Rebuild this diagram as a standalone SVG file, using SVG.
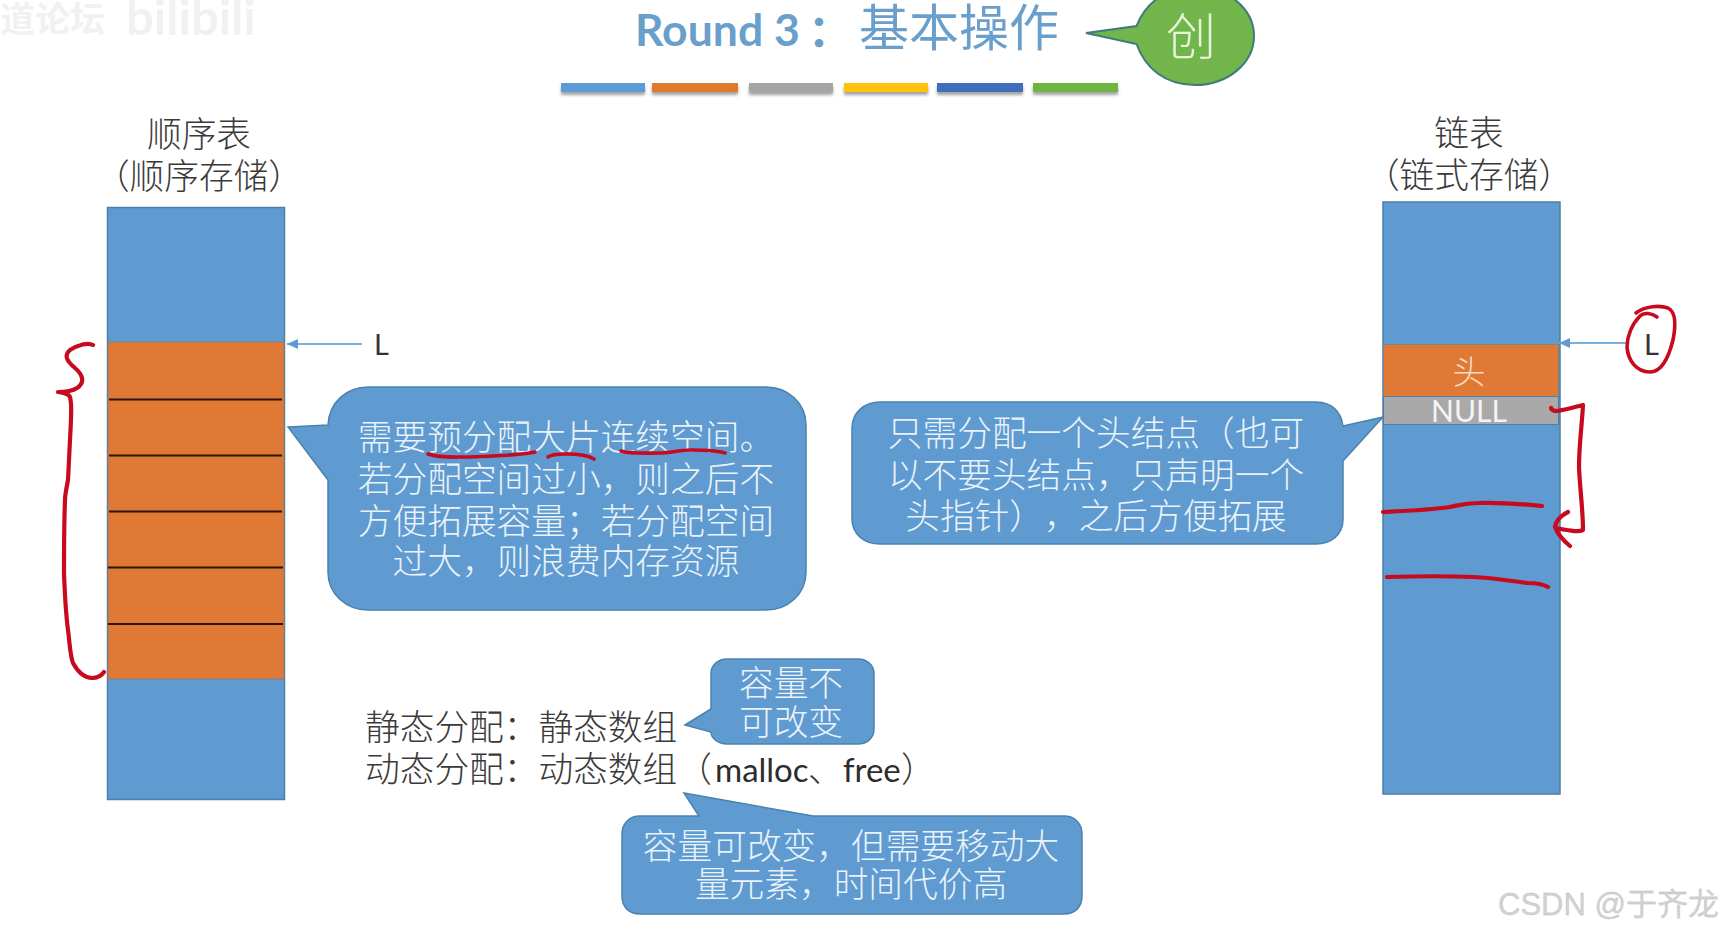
<svg xmlns="http://www.w3.org/2000/svg" width="1724" height="934" viewBox="0 0 1724 934">
<style>
text{font-family:"Noto Sans CJK SC","Noto Sans",sans-serif;text-spacing-trim:space-all}
.lab{font-size:34.7px;fill:#3a3a3a;text-anchor:middle;font-weight:300}
.plain{font-size:34.7px;fill:#3a3a3a;font-weight:300}
.bub{font-size:34.7px;fill:#e9f2f9;text-anchor:middle;font-weight:300}
.box{fill:#5f9bd0;stroke:#4b7fa9;stroke-width:1.5}
.org{fill:#e07836;stroke:#8a8078;stroke-width:1}
.call{fill:#5f9bd0;stroke:#4a82ad;stroke-width:1.5}
.sep{stroke:#2a1505;stroke-width:2}
.ink{fill:none;stroke:#c80a1e;stroke-width:4.2;stroke-linecap:round;stroke-linejoin:round}
.thin{stroke-width:3.6}
.ptr{stroke:#74b0de;stroke-width:2;fill:none;marker-end:url(#ah)}
.bar{filter:url(#sh)}
</style>
<defs>
<marker id="ah" markerUnits="userSpaceOnUse" markerWidth="12" markerHeight="12" refX="11" refY="6" orient="auto"><path d="M0,6 L11,1 L11,11 Z" transform="rotate(180 5.5 6)" fill="#5f9bd0"/></marker>
<filter id="sh" x="-10%" y="-40%" width="120%" height="200%"><feDropShadow dx="0" dy="3" stdDeviation="1.6" flood-color="#555" flood-opacity=".55"/></filter>
</defs>
<rect width="1724" height="934" fill="#fff"/>
<g id="watermark-top" fill="#f1f1f1" font-weight="700">
<text x="0" y="32" font-size="35">道论坛</text>
<text x="126" y="35" font-size="49" style="font-family:Lato,sans-serif">bilibili</text>
</g>
<g id="title">
<text x="635" y="46" font-size="44.500" font-weight="700" fill="#6b9fcb" style="font-family:Lato,sans-serif">Round 3</text>
<text x="808" y="47" font-size="44" font-weight="700" fill="#6b9fcb">：</text>
<text x="859" y="46" font-size="50" fill="#6b9fcb">基本操作</text>
</g>
<g id="badge">
<path d="M1086,33 L1136.500,26 C1145,4 1165,-13 1195,-13 C1228,-13 1254,9 1254,36 C1254,63 1228,85 1195,85 C1165,85 1145,68 1136.500,44 Z" fill="#72b54b" stroke="#3f7a7e" stroke-width="2"/>
<text x="1191" y="55" font-size="50" text-anchor="middle" fill="#e6f4dc" font-weight="300">创</text>
</g>
<g id="bars">
<rect class="bar" x="561" y="83" width="84" height="9" fill="#5b9bd5"/>
<rect class="bar" x="652" y="83" width="86" height="9" fill="#e0792f"/>
<rect class="bar" x="749" y="83" width="84" height="9" fill="#a5a5a5"/>
<rect class="bar" x="844" y="83" width="84" height="9" fill="#ffc20e"/>
<rect class="bar" x="937" y="83" width="86" height="9" fill="#3f6fbd"/>
<rect class="bar" x="1033" y="83" width="85" height="9" fill="#70b53f"/>
</g>
<g id="seq-label">
<text class="lab" x="199" y="147">顺序表</text>
<text class="lab" x="199" y="189">（顺序存储）</text>
</g>
<g id="seq-store">
<rect class="box" x="107.500" y="207.500" width="177" height="592"/>
<rect class="org" x="108" y="342" width="176" height="337"/>
<line class="sep" x1="109" y1="399.500" x2="282" y2="399.500"/>
<line class="sep" x1="109" y1="455.500" x2="282" y2="455.500"/>
<line class="sep" x1="109" y1="511.500" x2="282" y2="511.500"/>
<line class="sep" x1="108" y1="567.500" x2="283" y2="567.500"/>
<line class="sep" x1="108" y1="624" x2="283" y2="624"/>
</g>
<g id="seq-L"><text x="374" y="355" font-size="29" fill="#333" style="font-family:Lato,sans-serif">L</text></g>
<g id="link-label">
<text class="lab" x="1469" y="146">链表</text>
<text class="lab" x="1469" y="188">（链式存储）</text>
</g>
<g id="link-store">
<rect class="box" x="1383" y="202" width="177" height="592"/>
<rect class="org" x="1383.500" y="344.500" width="175" height="52" stroke="#4b7fa9"/>
<rect x="1383.500" y="396.500" width="175" height="28" fill="#a9a9a9" stroke="#4b7fa9" stroke-width="1"/>
<text x="1469" y="384" font-size="33" text-anchor="middle" fill="#fbdcc0" font-weight="300">头</text>
<text x="1469" y="422" font-size="30" text-anchor="middle" fill="#f4f4f4" style="font-family:Lato,sans-serif">NULL</text>
</g>
<g id="link-L"><text x="1644" y="355" font-size="29" fill="#333" style="font-family:Lato,sans-serif">L</text></g>
<g id="callout-seq">
<path class="call" d="M288,427 L328,425 C329,402 347,387 368,387 L766,387 C788,387 806,403 806,425 L806,572 C806,594 788,610 766,610 L368,610 C346,610 328,594 328,572 L328,480 Z"/>
<text class="bub" x="566" y="450">需要预分配大片连续空间。</text>
<text class="bub" x="566" y="492">若分配空间过小，则之后不</text>
<text class="bub" x="566" y="534">方便拓展容量；若分配空间</text>
<text class="bub" x="566" y="574">过大，则浪费内存资源</text>
</g>
<g id="callout-link">
<path class="call" d="M1383,417 L1343,461 L1343,519 C1343,535 1331,544 1316,544 L880,544 C864,544 852,534 852,519 L852,428 C852,413 864,402 880,402 L1316,402 C1331,402 1341,411 1343,426 Z"/>
<text class="bub" x="1096" y="446">只需分配一个头结点（也可</text>
<text class="bub" x="1096" y="488">以不要头结点，只声明一个</text>
<text class="bub" x="1096" y="529">头指针），之后方便拓展</text>
</g>
<g id="static-dynamic">
<text class="plain" x="365" y="740">静态分配：静态数组</text>
<text class="plain" x="365" y="782">动态分配：动态数组（</text>
<text x="715" y="782" font-size="33" fill="#2c2c2c" style="font-family:Lato,sans-serif">malloc</text>
<text class="plain" x="808" y="782">、</text>
<text x="843" y="782" font-size="33" fill="#2c2c2c" style="font-family:Lato,sans-serif">free</text>
<text class="plain" x="901" y="782">）</text>
</g>
<g id="callout-static">
<path class="call" d="M685,725 L711,709 L711,674 C711,665 718,659 727,659 L858,659 C867,659 874,665 874,674 L874,729 C874,738 867,744 858,744 L727,744 C718,744 711,738 711,732 Z"/>
<text class="bub" x="791" y="696">容量不</text>
<text class="bub" x="791" y="735">可改变</text>
</g>
<g id="callout-dynamic">
<path class="call" d="M684,793 L813,816 L1064,816 C1075,816 1082,824 1082,834 L1082,896 C1082,907 1075,914 1064,914 L640,914 C629,914 622,907 622,896 L622,834 C622,824 629,816 640,816 L699,816 Z"/>
<text class="bub" x="851" y="859">容量可改变，但需要移动大</text>
<text class="bub" x="851" y="897">量元素，时间代价高</text>
</g>
<g id="connectors">
<line class="ptr" x1="362" y1="344" x2="287" y2="344"/>
<line class="ptr" x1="1627" y1="343" x2="1559" y2="343"/>
</g>
<g id="ink">
<path class="ink" d="M93,345 C88,342 78,345 70,350 C63,356 68,362 75,368 C82,374 86,382 77,388 C71,392 64,392 58,392 C64,393 69,394 70,397 C72,405 71,412 71,420 L68,480 C66,490 65,495 65,500 C64,525 64,550 64,573 C65,600 66,615 68,630 C70,645 70,655 73,663 C78,672 84,678 92,678 C98,678 102,675 104,672"/>
<path class="ink" d="M1551,408 C1552,411 1555,411 1557,411 C1565,410 1575,407 1583,405 C1582,425 1579,445 1579,467 C1580,490 1583,510 1583,530 C1577,533 1571,530 1567,530 C1562,529 1557,529 1555,527 C1556,520 1562,515 1568,512 M1555,527 C1558,535 1564,541 1570,546"/>
<path class="ink thin" d="M1657,317 C1652,313 1644,312 1640,316 C1632,324 1627,336 1627,347 C1628,360 1636,372 1650,372 C1664,372 1670,352 1673,340 C1676,325 1676,312 1668,308 C1660,305 1645,306 1636,313"/>
<path class="ink" d="M1383,512 C1405,511 1430,510 1450,507 C1460,505 1465,503 1478,503 C1500,502 1520,504 1542,506"/>
<path class="ink" d="M1387,577 C1420,576 1450,576 1473,577 C1495,578 1510,581 1527,583 C1535,583 1543,584 1548,587"/>
<path class="ink thin" d="M428,454 C440,458 452,457 466,457 C490,456 515,456 535,452"/>
<path class="ink thin" d="M548,457 C552,454 560,454 566,454 C578,454 588,455 594,459"/>
<path class="ink thin" d="M621,451 C630,454 645,453 659,453 C670,453 680,450 691,450 C705,450 716,450 725,453"/>
</g>
<g id="watermark-csdn"><text x="1498" y="915" font-size="31" fill="#d2d2d2" stroke="#bbb" stroke-width=".3" style="font-family:'Liberation Sans','Noto Sans CJK SC',sans-serif">CSDN @于齐龙</text></g>
</svg>
